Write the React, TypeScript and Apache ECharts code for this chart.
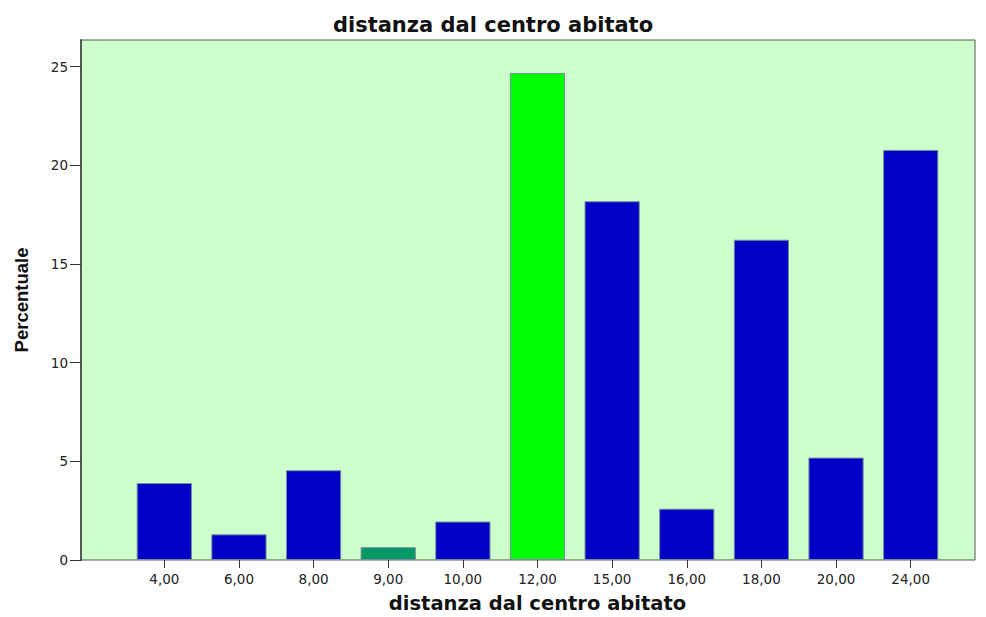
import React, { useEffect, useRef } from "react";
import * as echarts from "echarts";

const categories = ["4,00", "6,00", "8,00", "9,00", "10,00", "12,00", "15,00", "16,00", "18,00", "20,00", "24,00"];
const percentages = [3.9, 1.3, 4.55, 0.65, 1.95, 24.68, 18.18, 2.6, 16.23, 5.19, 20.78];
const yTicks = [0, 5, 10, 15, 20, 25];
const titleText = "distanza dal centro abitato";
const xAxisName = "distanza dal centro abitato";
const yAxisName = "Percentuale";

const BLUE = "#0000c8";
const barColors = [BLUE, BLUE, BLUE, "#009966", BLUE, "#00ff00", BLUE, BLUE, BLUE, BLUE, BLUE];

export default function App() {
  const ref = useRef<HTMLDivElement>(null);
  useEffect(() => {
    if (!ref.current) return;
    const chart = echarts.init(ref.current, null, { renderer: "svg" });
    const WIDE = "'DejaVu Sans', Verdana, sans-serif";
    const ARIAL = "'Liberation Sans', Arial, sans-serif";
    const yMax = 26.35;
    chart.setOption({
      animation: false,
      backgroundColor: "#ffffff",
      textStyle: { fontFamily: WIDE },
      title: {
        text: titleText,
        left: "center",
        top: 9,
        textStyle: { fontFamily: WIDE, fontSize: 21, fontWeight: "bold", color: "#111" },
      },
      grid: [
        {
          left: 81, top: 40, width: 894, height: 520,
          show: true, backgroundColor: "#ccffcc", borderColor: "#505a50", borderWidth: 1,
          outerBoundsMode: "none",
        },
        { left: 127, top: 40, width: 821, height: 520, outerBoundsMode: "none" },
      ],
      xAxis: [
        { gridIndex: 0, type: "value", min: 0, max: 1, show: false },
        {
          gridIndex: 1,
          type: "category",
          data: categories,
          axisLine: { show: false },
          axisTick: { show: true, alignWithLabel: true, length: 8, lineStyle: { color: "#333" } },
          axisLabel: { color: "#222", fontSize: 13.5, margin: 12, fontFamily: WIDE },
          name: xAxisName,
          nameLocation: "middle",
          nameGap: 33,
          nameTextStyle: { fontFamily: WIDE, fontSize: 19.5, fontWeight: "bold", color: "#111" },
        },
      ],
      yAxis: [
        {
          gridIndex: 0,
          type: "value",
          min: 0,
          max: yMax,
          interval: 5,
          axisLine: { show: true, lineStyle: { color: "#505a50", width: 2 } },
          axisTick: { show: true, length: 11, lineStyle: { color: "#333" }, customValues: yTicks },
          axisLabel: { color: "#222", fontSize: 13.5, margin: 13, fontFamily: WIDE, customValues: yTicks },
          splitLine: { show: false },
          name: yAxisName,
          nameLocation: "middle",
          nameGap: 50,
          nameRotate: 90,
          nameTextStyle: { fontFamily: ARIAL, fontSize: 18.5, fontWeight: "bold", color: "#111" },
        },
        { gridIndex: 1, type: "value", min: 0, max: yMax, show: false },
      ],
      series: [
        {
          type: "bar",
          xAxisIndex: 1,
          yAxisIndex: 1,
          barCategoryGap: "26%",
          data: percentages.map((v, i) => ({
            value: v,
            itemStyle: { color: barColors[i], borderColor: "#7a8a9a", borderWidth: 1 },
          })),
        },
      ],
    });
    return () => chart.dispose();
  }, []);
  return <div ref={ref} style={{ width: 986, height: 617, position: "absolute", left: 0, top: 0 }} />;
}
